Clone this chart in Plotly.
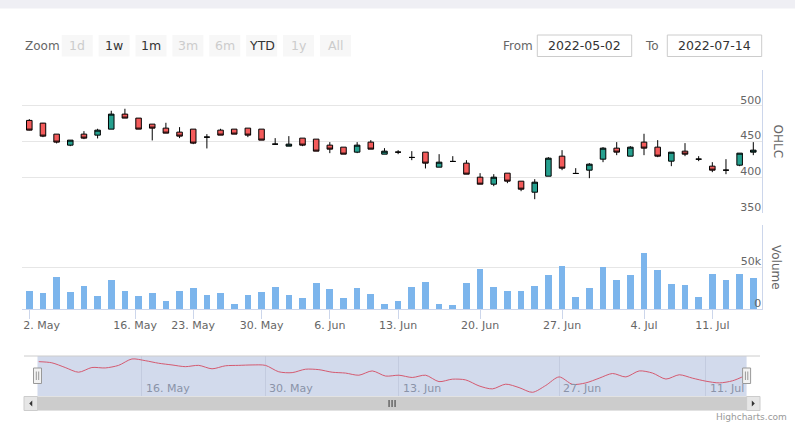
import datetime as dt
import plotly.graph_objects as go

W, H = 795, 440

# ---------------- data ----------------
dates = [
    "2022-05-02", "2022-05-03", "2022-05-04", "2022-05-05", "2022-05-06", "2022-05-09", "2022-05-11", "2022-05-13",
    "2022-05-17", "2022-05-18", "2022-05-19", "2022-05-20",
    "2022-05-23", "2022-05-24", "2022-05-25", "2022-05-26", "2022-05-27",
    "2022-05-30", "2022-05-31", "2022-06-01", "2022-06-02", "2022-06-03",
    "2022-06-06", "2022-06-07", "2022-06-08", "2022-06-09", "2022-06-10",
    "2022-06-13", "2022-06-14", "2022-06-15", "2022-06-16", "2022-06-17", "2022-06-18",
    "2022-06-20", "2022-06-21", "2022-06-22", "2022-06-23", "2022-06-24", "2022-06-25",
    "2022-06-27", "2022-06-28", "2022-06-29", "2022-06-30", "2022-07-01", "2022-07-02",
    "2022-07-04", "2022-07-05", "2022-07-06", "2022-07-07", "2022-07-08",
    "2022-07-11", "2022-07-12", "2022-07-13", "2022-07-14",
]
opens = [479.5, 475.7, 460.3, 444.9, 460.3, 458.9, 467.3, 488.3, 482.7, 474.3, 468.7, 463.1, 467.3, 456.1,
         465.9, 467.3, 468.7, 467.3, 446.3, 443.5, 454.7, 453.3, 444.9, 442.1, 435.1, 449.1, 432.3, 435.1,
         427.7, 435.1, 414.1, 422.1, 419.7, 400.1, 390.3, 405.7, 394.5, 379.1, 401.5, 429.5, 405.3, 409.9,
         425.3, 440.7, 429.5, 449.1, 442.1, 422.5, 436.5, 425.3, 415.5, 409.9, 416.9, 435.1]
highs = [481.3, 476.0, 460.3, 452.0, 464.5, 467.8, 493.0, 495.8, 482.7, 474.3, 476.2, 470.1, 467.3, 460.3,
         467.8, 467.3, 468.7, 467.3, 454.7, 457.5, 454.7, 453.3, 449.1, 442.1, 449.1, 451.9, 440.7, 437.9,
         436.5, 435.1, 432.3, 429.5, 423.9, 405.7, 404.3, 405.7, 394.5, 397.3, 428.1, 437.9, 412.7, 419.7,
         442.1, 449.1, 443.5, 460.8, 451.9, 435.1, 447.7, 429.5, 421.1, 425.3, 433.7, 449.1]
lows = [465.5, 456.1, 447.3, 443.5, 453.3, 454.3, 467.3, 482.7, 467.3, 451.5, 461.7, 454.7, 446.3, 440.3,
        458.9, 460.3, 456.1, 451.9, 446.3, 443.5, 443.5, 436.5, 433.7, 432.3, 433.7, 439.3, 432.3, 432.3,
        423.9, 412.3, 414.1, 422.1, 404.3, 390.3, 387.5, 391.7, 380.5, 369.3, 401.5, 409.9, 405.3, 398.7,
        421.1, 430.9, 429.5, 430.9, 428.1, 415.5, 429.5, 422.5, 407.1, 404.3, 415.5, 430.9]
closes = [465.9, 457.5, 449.1, 451.9, 454.7, 465.9, 488.3, 482.7, 467.3, 468.7, 461.7, 457.5, 447.7, 456.1,
          458.9, 460.3, 458.9, 451.9, 446.3, 446.3, 444.9, 436.5, 439.3, 432.3, 444.9, 439.3, 436.5, 435.1,
          427.7, 419.7, 421.1, 422.1, 404.3, 390.3, 400.1, 394.5, 383.3, 393.1, 426.7, 412.7, 405.3, 418.3,
          440.7, 435.1, 442.1, 440.7, 429.5, 435.1, 432.3, 425.3, 409.9, 409.9, 433.7, 437.9]
volumes = [21600, 19200, 38400, 20400, 27600, 15600, 34800, 21600, 15600, 19200, 9600, 21600, 25200, 16800,
           19200, 6000, 16800, 20400, 26400, 16800, 13200, 31200, 24000, 13200, 25200, 18000, 6000, 9600,
           26400, 32400, 6000, 4800, 31200, 48000, 26400, 21600, 21600, 27600, 40800, 51600, 14400, 25200,
           50400, 34800, 40800, 67200, 46800, 30000, 28800, 14400, 42000, 34800, 42000, 37200]

tick_dates = ["2022-05-02", "2022-05-16", "2022-05-23", "2022-05-30", "2022-06-06",
              "2022-06-13", "2022-06-20", "2022-06-27", "2022-07-04", "2022-07-11"]
tick_labels = ["2. May", "16. May", "23. May", "30. May", "6. Jun",
               "13. Jun", "20. Jun", "27. Jun", "4. Jul", "11. Jul"]
nav_tick_dates = ["2022-05-16", "2022-05-30", "2022-06-13", "2022-06-27", "2022-07-11"]
nav_tick_labels = ["16. May", "30. May", "13. Jun", "27. Jun", "11. Jul"]

ohlc_ticks = [350, 400, 450, 500, 550]
ohlc_tick_text = ["350", "400", "450", "500", ""]
vol_ticks = [0, 50000, 100000]
vol_tick_text = ["0", "50k", ""]

range_buttons = ["1d", "1w", "1m", "3m", "6m", "YTD", "1y", "All"]
range_enabled = [False, True, True, False, False, True, False, False]
from_date = "2022-05-02"
to_date = "2022-07-14"

# ---------------- ordinal axis helpers ----------------
D = [dt.date.fromisoformat(s) for s in dates]
xs = list(range(len(D)))


def ordinal_pos(s):
    d = dt.date.fromisoformat(s)
    for i in range(len(D) - 1):
        if D[i] <= d <= D[i + 1]:
            return i + (d - D[i]).days / (D[i + 1] - D[i]).days
    return float(len(D) - 1)


tick_pos = [ordinal_pos(s) for s in tick_dates]
nav_tick_pos = [ordinal_pos(s) for s in nav_tick_dates]

# the first label is justified against the left edge (like the original)
shown_tick_labels = list(tick_labels)
shown_tick_labels[0] = "\u00a0" * 7 + tick_labels[0]


def px(x):
    return x / W


def py(y):
    return 1 - y / H


FONT = "DejaVu Sans"
RED = "#f45b5b"
GREEN = "#26a08f"

fig = go.Figure()

fig.add_trace(go.Candlestick(
    x=xs, open=opens, high=highs, low=lows, close=closes,
    xaxis="x", yaxis="y", name="OHLC",
    text=dates,
    increasing=dict(fillcolor=GREEN, line=dict(color="#000000", width=1)),
    decreasing=dict(fillcolor=RED, line=dict(color="#000000", width=1)),
    whiskerwidth=0,
))

fig.add_trace(go.Bar(
    x=xs, y=volumes, xaxis="x2", yaxis="y2", name="Volume",
    marker=dict(color="#7cb5ec", line=dict(width=0)), width=0.49,
    text=dates, textposition="none",
))

fig.add_trace(go.Scatter(
    x=xs, y=opens, xaxis="x3", yaxis="y3", mode="lines",
    line=dict(color="#d45a70", width=1, shape="spline", smoothing=0.8),
    hoverinfo="skip",
))

shapes = []
annotations = []

# top band
shapes.append(dict(type="rect", xref="paper", yref="paper", x0=0, x1=1, y0=py(8.5), y1=1,
                   fillcolor="#efeff4", line=dict(width=0), layer="below"))

# range selector
annotations.append(dict(text="Zoom", x=px(22.5), y=py(46), xref="paper", yref="paper",
                        xanchor="left", yanchor="middle", showarrow=False,
                        font=dict(family=FONT, size=12, color="#666666")))
for i, (lab, en) in enumerate(zip(range_buttons, range_enabled)):
    x0 = 61.7 + i * 36.9
    x1 = x0 + 31
    shapes.append(dict(type="rect", xref="paper", yref="paper", x0=px(x0), x1=px(x1), y0=py(56.5), y1=py(35),
                       fillcolor="#f7f7f7", line=dict(width=0), layer="below"))
    annotations.append(dict(text=lab, x=px((x0 + x1) / 2), y=py(46), xref="paper", yref="paper",
                            xanchor="center", yanchor="middle", showarrow=False,
                            font=dict(family=FONT, size=12.5, color="#333333" if en else "#cccccc")))

# date inputs
for lab, lx, bx0, bx1, val in [("From", 500.7, 537.3, 631.7, from_date), ("To", 643, 667.3, 761.7, to_date)]:
    annotations.append(dict(text=lab, x=px(lx), y=py(46), xref="paper", yref="paper",
                            xanchor="left", yanchor="middle", showarrow=False,
                            font=dict(family=FONT, size=12, color="#666666")))
    shapes.append(dict(type="rect", xref="paper", yref="paper", x0=px(bx0), x1=px(bx1), y0=py(56.5), y1=py(35),
                       fillcolor="white", line=dict(color="#cccccc", width=1), layer="below"))
    annotations.append(dict(text=val, x=px((bx0 + bx1) / 2), y=py(46), xref="paper", yref="paper",
                            xanchor="center", yanchor="middle", showarrow=False,
                            font=dict(family=FONT, size=12.5, color="#333333")))

# axis titles
annotations.append(dict(text="OHLC", x=px(777), y=py(141.5), xref="paper", yref="paper", textangle=90,
                        showarrow=False, xanchor="center", yanchor="middle",
                        font=dict(family=FONT, size=12, color="#666666")))
annotations.append(dict(text="Volume", x=px(776), y=py(267), xref="paper", yref="paper", textangle=90,
                        showarrow=False, xanchor="center", yanchor="middle",
                        font=dict(family=FONT, size=12, color="#666666")))

# navigator
NAV_T, NAV_B = 356, 396
H_L, H_R = 37.5, 746.6
shapes.append(dict(type="rect", xref="paper", yref="paper", x0=px(H_L), x1=px(H_R), y0=py(NAV_B), y1=py(NAV_T),
                   fillcolor="#d2daec", line=dict(width=0), layer="below"))
shapes.append(dict(type="line", xref="paper", yref="paper", x0=px(24), x1=px(760), y0=py(NAV_T), y1=py(NAV_T),
                   line=dict(color="#cccccc", width=1)))
for p, lab in zip(nav_tick_pos, nav_tick_labels):
    annotations.append(dict(text=lab, x=p, y=py(388), xref="x3", yref="paper", xanchor="left",
                            yanchor="middle", xshift=2, showarrow=False,
                            font=dict(family=FONT, size=11, color="#8a93a8")))
for hx in (H_L, H_R):
    shapes.append(dict(type="rect", xref="paper", yref="paper", x0=px(hx - 4), x1=px(hx + 4),
                       y0=py(383.5), y1=py(368), fillcolor="#f2f2f2", line=dict(color="#999999", width=1)))
    for dx in (-1.2, 1.2):
        shapes.append(dict(type="line", xref="paper", yref="paper", x0=px(hx + dx), x1=px(hx + dx),
                           y0=py(380), y1=py(371.5), line=dict(color="#999999", width=1)))

# scrollbar
SB_T, SB_B = 396.5, 410.5
shapes.append(dict(type="rect", xref="paper", yref="paper", x0=px(24), x1=px(760), y0=py(SB_B), y1=py(SB_T),
                   fillcolor="#f2f2f2", line=dict(width=0)))
shapes.append(dict(type="rect", xref="paper", yref="paper", x0=px(H_L), x1=px(H_R), y0=py(SB_B), y1=py(SB_T),
                   fillcolor="#cccccc", line=dict(width=0)))
for bx0, bx1 in [(24, H_L), (H_R, 760)]:
    shapes.append(dict(type="rect", xref="paper", yref="paper", x0=px(bx0), x1=px(bx1), y0=py(SB_B), y1=py(SB_T),
                       fillcolor="#e6e6e6", line=dict(color="#cccccc", width=1)))
cy = (SB_T + SB_B) / 2
lx = (24 + H_L) / 2
rx = (H_R + 760) / 2
shapes.append(dict(type="path", xref="paper", yref="paper",
                   path=f"M {px(lx+1.5)} {py(cy-3)} L {px(lx-1.5)} {py(cy)} L {px(lx+1.5)} {py(cy+3)} Z",
                   fillcolor="#333333", line=dict(width=0)))
shapes.append(dict(type="path", xref="paper", yref="paper",
                   path=f"M {px(rx-1.5)} {py(cy-3)} L {px(rx+1.5)} {py(cy)} L {px(rx-1.5)} {py(cy+3)} Z",
                   fillcolor="#333333", line=dict(width=0)))
gx = (H_L + H_R) / 2
for dx in (-3, 0, 3):
    shapes.append(dict(type="line", xref="paper", yref="paper", x0=px(gx + dx), x1=px(gx + dx),
                       y0=py(cy + 3.5), y1=py(cy - 3.5), line=dict(color="#333333", width=1)))

# credits
annotations.append(dict(text="Highcharts.com", x=px(789), y=py(417), xref="paper", yref="paper",
                        xanchor="right", yanchor="middle", showarrow=False,
                        font=dict(family=FONT, size=9, color="#999999")))

X0, X1 = 22, 762
x_range = [-0.534, 53.637]

fig.update_layout(
    width=W, height=H, margin=dict(l=0, r=0, t=0, b=0, autoexpand=False),
    paper_bgcolor="white", plot_bgcolor="rgba(0,0,0,0)",
    showlegend=False, boxgap=0.42, bargap=0,
    font=dict(family=FONT, size=11, color="#666666"),
    hovermode="x",
    xaxis=dict(domain=[px(X0), px(X1)], range=x_range, anchor="y", showticklabels=False,
               showgrid=False, zeroline=False, showline=False, ticks="", automargin=False,
               rangeslider=dict(visible=False)),
    yaxis=dict(domain=[py(213), py(70)], range=[350, 550], side="right", anchor="x",
               tickvals=ohlc_ticks, ticktext=ohlc_tick_text, ticklabelposition="inside",
               ticklabeloverflow="allow",
               ticklabelshift=-6, gridcolor="#e6e6e6", gridwidth=1, showline=True, linecolor="#ccd6eb",
               zeroline=False, ticks="", automargin=False, tickfont=dict(size=11, color="#666666")),
    xaxis2=dict(domain=[px(X0), px(X1)], range=x_range, matches="x", anchor="y2",
                tickmode="array", tickvals=tick_pos, ticktext=shown_tick_labels, ticks="outside", ticklen=9,
                tickcolor="#ccd6eb", showline=True, linecolor="#ccd6eb", showgrid=False, zeroline=False,
                ticklabeloverflow="allow", ticklabelstandoff=-3,
                automargin=False, tickfont=dict(size=11, color="#666666")),
    yaxis2=dict(domain=[py(309), py(225)], range=[0, 100000], side="right", anchor="x2",
                tickvals=vol_ticks, ticktext=vol_tick_text, ticklabelposition="inside",
                ticklabeloverflow="allow",
                ticklabelshift=-6, gridcolor="#e6e6e6", showline=True, linecolor="#ccd6eb",
                zeroline=False, ticks="", automargin=False, tickfont=dict(size=11, color="#666666")),
    xaxis3=dict(domain=[px(38.5), px(746)], range=[0, 53], anchor="y3", tickmode="array",
                tickvals=nav_tick_pos, showticklabels=False, showgrid=True, gridcolor="#c3cbdf",
                zeroline=False, showline=False, ticks="", automargin=False),
    yaxis3=dict(domain=[py(NAV_B), py(NAV_T)], range=[367, 498], anchor="x3", visible=False,
                showgrid=False, zeroline=False, automargin=False),
    shapes=shapes,
    annotations=annotations,
)

fig.write_html("out.html", config={"displayModeBar": False},
               post_script="document.body.style.margin='0px';document.body.style.overflow='hidden';")
